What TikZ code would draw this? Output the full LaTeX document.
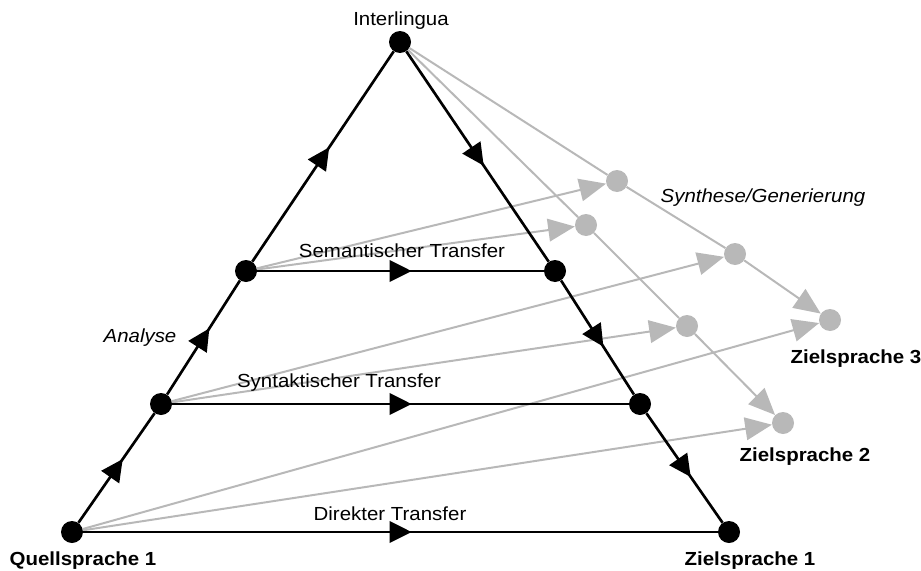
\documentclass[tikz,border=0pt]{standalone}
\usepackage{fontspec}
\setmainfont{Liberation Sans}[FakeStretch=1.08]
\usetikzlibrary{arrows.meta,decorations.markings}
\definecolor{lgray}{RGB}{184,184,184}
\tikzset{
  bdot/.style={circle,fill=black,inner sep=0pt,minimum size=16.5pt},
  gdot/.style={circle,fill=lgray,inner sep=0pt,minimum size=16.5pt},
  bline/.style={line width=2pt,black},
  gline/.style={line width=1.5pt,lgray},
  garrow/.style={gline,-{Triangle[length=20pt,width=17pt]}},
  midarrow/.style={postaction={decorate},decoration={markings,
    mark=at position 0.5 with {\arrow[xshift=8.3pt]{Triangle[length=16.5pt,width=16pt]}}}},
  lbl/.style={font=\fontsize{14.2pt}{17pt}\selectfont,inner sep=0pt},
  blbl/.style={lbl,font=\fontsize{14.2pt}{17pt}\selectfont\bfseries},
  ilbl/.style={lbl,font=\fontsize{14.2pt}{17pt}\selectfont\itshape}
}
\begin{document}
\begin{tikzpicture}[x=0.75pt,y=-0.75pt]
\useasboundingbox (0,0) rectangle (921,571);
% black dots
\node[bdot] (IL) at (400,42) {};
\node[bdot] (S1) at (246,271) {};
\node[bdot] (S2) at (555,271) {};
\node[bdot] (Y1) at (161,404) {};
\node[bdot] (Y2) at (640,404) {};
\node[bdot] (Q1) at (72,532) {};
\node[bdot] (Z1) at (729,532) {};
% gray dots
\node[gdot] (G1) at (617,181) {};
\node[gdot] (G2) at (586,225) {};
\node[gdot] (G3) at (735,254) {};
\node[gdot] (G4) at (687,326) {};
\node[gdot] (G5) at (830,320) {};
\node[gdot] (G6) at (783,423) {};
% gray connectors
\draw[garrow] (S1) -- (G1);
\draw[garrow] (S1) -- (G2);
\draw[garrow] (Y1) -- (G3);
\draw[garrow] (Y1) -- (G4);
\draw[garrow] (Q1) -- (G5);
\draw[garrow] (Q1) -- (G6);
\draw[gline] (IL) -- (G1);
\draw[gline] (G1) -- (G3);
\draw[garrow] (G3) -- (G5);
\draw[gline] (IL) -- (G2);
\draw[gline] (G2) -- (G4);
\draw[garrow] (G4) -- (G6);
% black connectors
\draw[bline,midarrow] (Q1) -- (Y1);
\draw[bline,midarrow] (Y1) -- (S1);
\draw[bline,midarrow] (S1) -- (IL);
\draw[bline,midarrow] (IL) -- (S2);
\draw[bline,midarrow] (S2) -- (Y2);
\draw[bline,midarrow] (Y2) -- (Z1);
\draw[bline,midarrow] (S1) -- (S2);
\draw[bline,midarrow] (Y1) -- (Y2);
\draw[bline,midarrow] (Q1) -- (Z1);
% labels
\node[lbl] (tIL) at (401,21) {Interlingua};
\node[lbl] (tST) at (402,251) {Semantischer Transfer};
\node[lbl] (tYT) at (339,383) {Syntaktischer Transfer};
\node[lbl] (tDT) at (390,514) {Direkter Transfer};
\node[ilbl] (tAN) at (140,338) {Analyse};
\node[ilbl] (tSG) at (763,198) {Synthese/Generierung};
\node[blbl] (tZ3) at (856,359) {Zielsprache 3};
\node[blbl] (tZ2) at (805,457) {Zielsprache 2};
\node[blbl] (tZ1) at (750,561) {Zielsprache 1};
\node[blbl] (tQ1) at (83,561) {Quellsprache 1};
\end{tikzpicture}
\end{document}
